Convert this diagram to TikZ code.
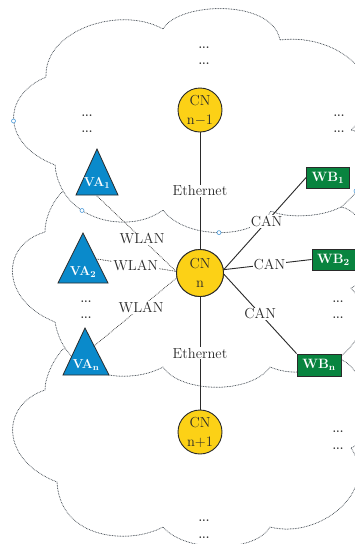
\documentclass[tikz,border=0pt]{standalone}
\definecolor{cnyellow}{HTML}{FCD116}
\definecolor{vablue}{HTML}{0A8ACB}
\definecolor{wbgreen}{HTML}{08843F}
\definecolor{inkgray}{HTML}{2A2A2A}
\definecolor{cloudgray}{HTML}{3E464E}
\definecolor{handleblue}{HTML}{4C9BDA}
\begin{document}
\begin{tikzpicture}[x=1pt,y=-1pt,
  cloudline/.style={draw=cloudgray, fill=white, line width=1pt, line cap=round, dash pattern=on 0pt off 1.6pt},
  handle/.style={draw=handleblue, fill=white, line width=0.6pt},
  cnnode/.style={circle, draw=inkgray, line width=0.9pt, fill=cnyellow, inner sep=0pt, minimum size=44pt, align=center, text=inkgray, font=\fontsize{14.5}{19}\selectfont},
  wbnode/.style={rectangle, draw=inkgray, line width=0.8pt, fill=wbgreen, minimum width=43pt, minimum height=21pt, inner sep=0pt, text=white, font=\bfseries\fontsize{13.5}{13.5}\selectfont},
  vashape/.style={draw=inkgray, line width=0.8pt, fill=vablue, line join=miter},
  vatext/.style={inner sep=0pt, text=white, font=\bfseries\fontsize{13}{13}\selectfont},
  wired/.style={draw=inkgray, line width=0.9pt},
  wireless/.style={draw=inkgray, line width=1pt, line cap=round, dash pattern=on 0pt off 1.7pt},
  lbl/.style={fill=white, inner sep=1pt, text=inkgray, font=\fontsize{14.5}{14.5}\selectfont},
  ellip/.style={inner sep=0pt, text=inkgray, font=\bfseries\fontsize{11.5}{11.5}\selectfont},
]
\useasboundingbox (0,0) rectangle (355,544);
\begin{scope}
\clip (0,0) rectangle (355,544);

% lower cloud (its top runs under the middle cloud)
\path[cloudline] (342,360)
  .. controls (300,335) and (110,320) .. (62,350)
  .. controls (50,365) and (45,380) .. (45,390)
  .. controls (0,405) and (0,460) .. (57,482)
  .. controls (60,540) and (130,545) .. (163,527)
  .. controls (185,553) and (255,553) .. (270,527)
  .. controls (320,540) and (380,490) .. (351,448)
  .. controls (390,430) and (362,368) .. (342,360) -- cycle;

% middle cloud (its top runs under the upper cloud)
\path[cloudline] (341,207)
  .. controls (300,190) and (100,180) .. (62,192)
  .. controls (50,205) and (45,220) .. (45,232)
  .. controls (0,245) and (0,300) .. (55,322)
  .. controls (65,380) and (130,385) .. (163,367)
  .. controls (180,393) and (250,395) .. (270,367)
  .. controls (325,390) and (390,330) .. (351,288)
  .. controls (390,270) and (365,210) .. (341,207) -- cycle;

% upper cloud
\path[cloudline] (55,165)
  .. controls (3,145) and (0,97) .. (46,77)
  .. controls (44,30) and (120,5) .. (163,29)
  .. controls (178,2) and (272,-2) .. (280,40)
  .. controls (340,32) and (400,85) .. (351,130)
  .. controls (395,140) and (368,185) .. (341,207)
  .. controls (320,218) and (285,218) .. (271,211)
  .. controls (255,240) and (185,240) .. (163,210)
  .. controls (130,235) and (60,222) .. (55,165) -- cycle;

% edit handles left on the upper cloud outline
\draw[handle] (13.5,121) circle[radius=2pt];
\draw[handle] (82,210.5) circle[radius=2pt];
\draw[handle] (219,232.6) circle[radius=2pt];
\draw[handle] (356,191) circle[radius=2pt];

% vehicle access points
\draw[vashape] (97,149) -- (118,195) -- (76,195) -- cycle;
\draw[vashape] (83,233) -- (108,283) -- (58,283) -- cycle;
\draw[vashape] (85,328) -- (109,375) -- (63,375) -- cycle;
\node[vatext] (va1) at (97,183) {VA\textsubscript{1}};
\node[vatext] (va2) at (83,272) {VA\textsubscript{2}};
\node[vatext] (van) at (86,365) {VA\textsubscript{n}};
\coordinate (va1p) at (97,196);
\coordinate (va2p) at (97,259);
\coordinate (vanp) at (94,346);

% control nodes
\node[cnnode] (cnm1) at (200,110) {CN\\n$-$1};
\node[cnnode, minimum size=47pt] (cnn) at (200,273) {CN\\n};
\node[cnnode] (cnp1) at (200,432) {CN\\n$+$1};

% wall boxes
\node[wbnode] (wb1) at (328,177.5) {WB\textsubscript{1}};
\node[wbnode] (wb2) at (333.5,259.5) {WB\textsubscript{2}};
\node[wbnode, minimum width=44pt, minimum height=22pt] (wbn) at (319,365) {WB\textsubscript{n}};

% wired links
\draw[wired] (cnm1) -- node[lbl]{Ethernet} (cnn);
\draw[wired] (cnn) -- node[lbl]{Ethernet} (cnp1);
\draw[wired] (cnn.8) -- node[lbl,pos=0.52]{CAN} (wb1.west);
\draw[wired] (cnn.8) -- node[lbl,pos=0.52]{CAN} (wb2.west);
\draw[wired] (cnn.-3) -- node[lbl,pos=0.5]{CAN} (wbn.north west);

% wireless links
\draw[wireless] (va1p) -- node[lbl,pos=0.57]{WLAN} (cnn.176);
\draw[wireless] (va2p) -- node[lbl,pos=0.49]{WLAN} (cnn.176);
\draw[wireless] (vanp) -- node[lbl,pos=0.57]{WLAN} (cnn.192);

% redraw the central node over the link ends
\node[cnnode, minimum size=47pt] at (cnn) {CN\\n};

% ellipses marking further devices
\node[ellip] (e1) at (204,48) {...};
\node[ellip] (e2) at (204,64) {...};
\node[ellip] (e3) at (87,116) {...};
\node[ellip] (e4) at (87,132) {...};
\node[ellip] (e5) at (339,116) {...};
\node[ellip] (e6) at (339,132) {...};
\node[ellip] (e7) at (86,302) {...};
\node[ellip] (e8) at (86,318) {...};
\node[ellip] (e9) at (338,302) {...};
\node[ellip] (e10) at (338,318) {...};
\node[ellip] (e11) at (338,432) {...};
\node[ellip] (e12) at (338,449) {...};
\node[ellip] (e13) at (204,521) {...};
\node[ellip] (e14) at (204,538) {...};
\end{scope}
\end{tikzpicture}
\end{document}
